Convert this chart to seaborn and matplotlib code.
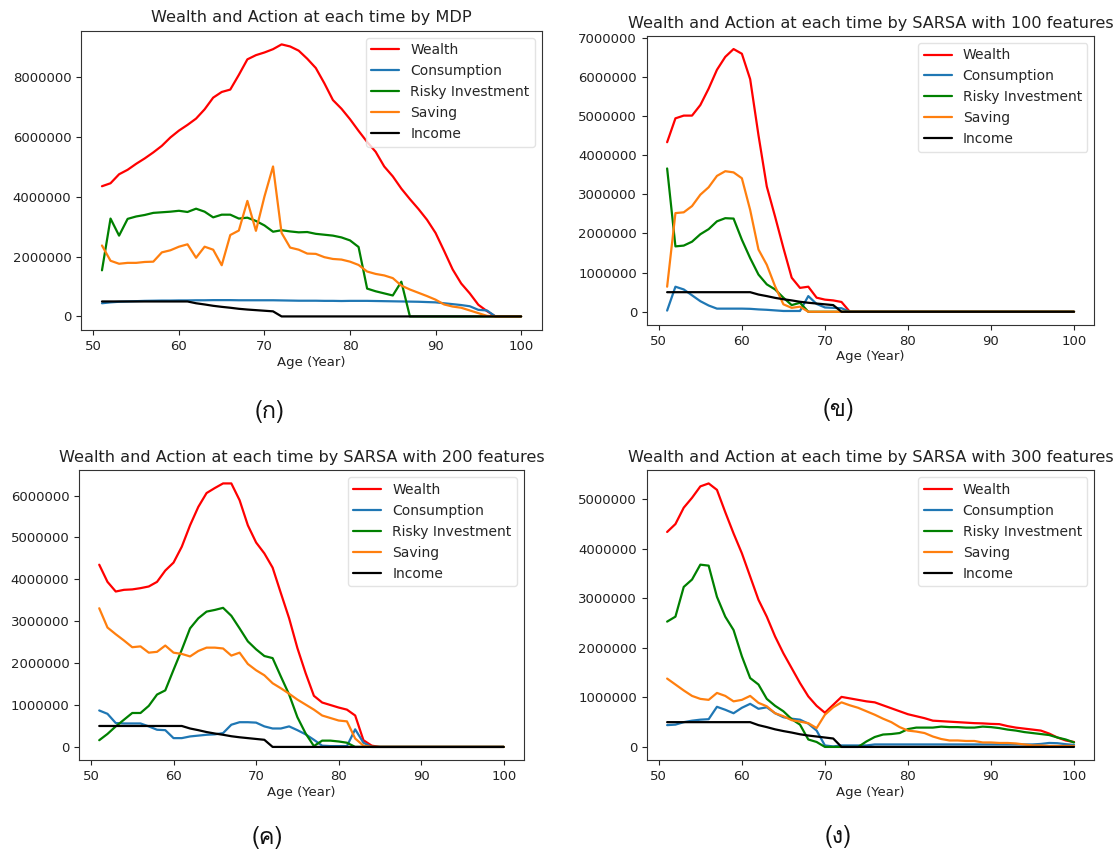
import matplotlib
matplotlib.use("Agg")
import matplotlib.pyplot as plt
import pandas as pd
import seaborn as sns
from matplotlib import font_manager
from matplotlib.ft2font import FT2Font
from matplotlib.ticker import MultipleLocator

# ---- data (ages 51..100) ----
ages = list(range(51, 101))

income = [500000, 500000, 500000, 500000, 500000, 500000, 500000, 500000, 500000, 500000,
          500000, 440000, 400000, 355000, 320000, 290000, 255000, 230000, 210000, 190000,
          170000, 0, 0, 0, 0, 0, 0, 0, 0, 0,
          0, 0, 0, 0, 0, 0, 0, 0, 0, 0,
          0, 0, 0, 0, 0, 0, 0, 0, 0, 0]

# (ก) MDP
wealth_mdp = [4350000, 4450000, 4750000, 4900000, 5100000, 5280000, 5480000, 5700000, 5980000, 6210000,
              6400000, 6610000, 6920000, 7310000, 7500000, 7580000, 8070000, 8590000, 8730000, 8820000,
              8930000, 9090000, 9020000, 8880000, 8610000, 8300000, 7790000, 7230000, 6940000, 6590000,
              6200000, 5830000, 5500000, 5010000, 4680000, 4270000, 3920000, 3590000, 3230000, 2790000,
              2190000, 1570000, 1100000, 770000, 390000, 180000, 0, 0, 0, 0]
consumption_mdp = [440000, 470000, 490000, 500000, 510000, 520000, 525000, 530000, 530000, 535000,
                   535000, 540000, 540000, 545000, 545000, 545000, 540000, 540000, 540000, 540000,
                   540000, 535000, 530000, 525000, 525000, 525000, 520000, 520000, 515000, 520000,
                   520000, 520000, 515000, 510000, 505000, 500000, 495000, 490000, 480000, 470000,
                   440000, 410000, 380000, 340000, 220000, 200000, 0, 0, 0, 0]
risky_mdp = [1540000, 3270000, 2700000, 3260000, 3340000, 3390000, 3460000, 3480000, 3500000, 3530000,
             3490000, 3600000, 3500000, 3310000, 3400000, 3400000, 3270000, 3300000, 3190000, 3040000,
             2830000, 2880000, 2840000, 2810000, 2820000, 2760000, 2730000, 2700000, 2640000, 2540000,
             2320000, 930000, 840000, 770000, 700000, 1160000, 0, 0, 0, 0,
             0, 0, 0, 0, 0, 0, 0, 0, 0, 0]
saving_mdp = [2370000, 1860000, 1760000, 1790000, 1790000, 1820000, 1830000, 2140000, 2210000, 2330000,
              2410000, 1960000, 2330000, 2230000, 1710000, 2720000, 2870000, 3860000, 2860000, 4010000,
              5010000, 2790000, 2300000, 2230000, 2100000, 2090000, 1980000, 1920000, 1900000, 1830000,
              1720000, 1500000, 1420000, 1370000, 1280000, 1030000, 900000, 790000, 680000, 560000,
              400000, 330000, 290000, 200000, 110000, 20000, 0, 0, 0, 0]

# (ข) SARSA 100 features
wealth_100 = [4330000, 4940000, 5010000, 5010000, 5280000, 5700000, 6180000, 6510000, 6710000, 6590000,
              5940000, 4510000, 3200000, 2430000, 1630000, 870000, 610000, 640000, 360000, 310000,
              290000, 250000, 0, 0, 0, 0, 0, 0, 0, 0,
              0, 0, 0, 0, 0, 0, 0, 0, 0, 0,
              0, 0, 0, 0, 0, 0, 0, 0, 0, 0]
consumption_100 = [30000, 640000, 570000, 420000, 270000, 160000, 80000, 80000, 80000, 80000,
                   75000, 60000, 50000, 35000, 20000, 20000, 20000, 400000, 200000, 110000,
                   100000, 90000, 0, 0, 0, 0, 0, 0, 0, 0,
                   0, 0, 0, 0, 0, 0, 0, 0, 0, 0,
                   0, 0, 0, 0, 0, 0, 0, 0, 0, 0]
risky_100 = [3660000, 1670000, 1690000, 1790000, 1980000, 2110000, 2310000, 2390000, 2380000, 1840000,
             1370000, 950000, 700000, 570000, 360000, 170000, 230000, 0, 0, 0,
             0, 0, 0, 0, 0, 0, 0, 0, 0, 0,
             0, 0, 0, 0, 0, 0, 0, 0, 0, 0,
             0, 0, 0, 0, 0, 0, 0, 0, 0, 0]
saving_100 = [640000, 2520000, 2540000, 2700000, 2990000, 3180000, 3470000, 3590000, 3560000, 3410000,
              2600000, 1590000, 1200000, 650000, 190000, 100000, 130000, 0, 0, 0,
              0, 0, 0, 0, 0, 0, 0, 0, 0, 0,
              0, 0, 0, 0, 0, 0, 0, 0, 0, 0,
              0, 0, 0, 0, 0, 0, 0, 0, 0, 0]

# (ค) SARSA 200 features
wealth_200 = [4350000, 3940000, 3710000, 3750000, 3760000, 3790000, 3830000, 3940000, 4210000, 4400000,
              4780000, 5290000, 5730000, 6060000, 6180000, 6290000, 6290000, 5890000, 5290000, 4880000,
              4620000, 4280000, 3670000, 3070000, 2360000, 1760000, 1220000, 1060000, 1000000, 940000,
              890000, 750000, 160000, 30000, 0, 0, 0, 0, 0, 0,
              0, 0, 0, 0, 0, 0, 0, 0, 0, 0]
consumption_200 = [870000, 790000, 570000, 560000, 560000, 560000, 490000, 410000, 400000, 210000,
                   210000, 250000, 270000, 290000, 300000, 330000, 530000, 590000, 590000, 580000,
                   490000, 440000, 440000, 490000, 400000, 300000, 170000, 30000, 20000, 20000,
                   20000, 420000, 100000, 0, 0, 0, 0, 0, 0, 0,
                   0, 0, 0, 0, 0, 0, 0, 0, 0, 0]
risky_200 = [160000, 310000, 490000, 650000, 810000, 810000, 980000, 1250000, 1350000, 1840000,
             2320000, 2830000, 3070000, 3230000, 3270000, 3320000, 3130000, 2830000, 2520000, 2330000,
             2170000, 2120000, 1680000, 1250000, 710000, 320000, 20000, 150000, 150000, 130000,
             100000, 0, 0, 0, 0, 0, 0, 0, 0, 0,
             0, 0, 0, 0, 0, 0, 0, 0, 0, 0]
saving_200 = [3310000, 2850000, 2690000, 2540000, 2380000, 2400000, 2250000, 2270000, 2420000, 2250000,
              2220000, 2160000, 2290000, 2370000, 2370000, 2350000, 2180000, 2250000, 1980000, 1830000,
              1710000, 1520000, 1400000, 1270000, 1130000, 1010000, 890000, 750000, 690000, 630000,
              610000, 200000, 30000, 0, 0, 0, 0, 0, 0, 0,
              0, 0, 0, 0, 0, 0, 0, 0, 0, 0]

# (ง) SARSA 300 features
wealth_300 = [4340000, 4500000, 4830000, 5030000, 5260000, 5320000, 5190000, 4740000, 4310000, 3910000,
              3440000, 2970000, 2630000, 2230000, 1890000, 1590000, 1290000, 1020000, 830000, 690000,
              850000, 1010000, 980000, 950000, 920000, 900000, 840000, 780000, 720000, 660000,
              620000, 580000, 530000, 520000, 510000, 500000, 490000, 480000, 475000, 465000,
              460000, 420000, 390000, 370000, 350000, 330000, 270000, 190000, 130000, 100000]
consumption_300 = [440000, 450000, 500000, 530000, 550000, 560000, 810000, 750000, 680000, 790000,
                   870000, 770000, 800000, 680000, 600000, 570000, 550000, 470000, 330000, 30000,
                   10000, 30000, 30000, 30000, 30000, 50000, 50000, 50000, 50000, 50000,
                   50000, 50000, 50000, 50000, 50000, 50000, 50000, 50000, 50000, 50000,
                   50000, 50000, 50000, 50000, 50000, 60000, 80000, 75000, 55000, 40000]
risky_300 = [2530000, 2630000, 3230000, 3380000, 3680000, 3660000, 3030000, 2630000, 2360000, 1830000,
             1390000, 1260000, 970000, 830000, 720000, 560000, 450000, 150000, 100000, 0,
             0, 0, 0, 0, 110000, 200000, 250000, 260000, 280000, 360000,
             390000, 390000, 390000, 410000, 400000, 400000, 390000, 390000, 410000, 400000,
             380000, 350000, 330000, 300000, 280000, 260000, 240000, 190000, 150000, 90000]
saving_300 = [1380000, 1260000, 1140000, 1030000, 970000, 950000, 1090000, 1030000, 920000, 950000,
              1030000, 890000, 820000, 680000, 620000, 540000, 510000, 480000, 380000, 650000,
              800000, 900000, 840000, 790000, 720000, 650000, 570000, 500000, 400000, 330000,
              310000, 280000, 210000, 160000, 130000, 130000, 120000, 120000, 90000, 90000,
              80000, 80000, 70000, 50000, 30000, 30000, 20000, 20000, 20000, 20000]

series_names = ["Wealth", "Consumption", "Risky Investment", "Saving", "Income"]
series_colors = ["red", "tab:blue", "green", "tab:orange", "black"]

panels = [
    ("Wealth and Action at each time by MDP", "(ก)",
     [wealth_mdp, consumption_mdp, risky_mdp, saving_mdp, income]),
    ("Wealth and Action at each time by SARSA with 100 features", "(ข)",
     [wealth_100, consumption_100, risky_100, saving_100, income]),
    ("Wealth and Action at each time by SARSA with 200 features", "(ค)",
     [wealth_200, consumption_200, risky_200, saving_200, income]),
    ("Wealth and Action at each time by SARSA with 300 features", "(ง)",
     [wealth_300, consumption_300, risky_300, saving_300, income]),
]

# axes boxes [left, bottom, width, height] in figure fractions, and y-tick steps
boxes = [[0.0724, 0.614, 0.412, 0.350],
         [0.578, 0.620, 0.400, 0.338],
         [0.0706, 0.111, 0.3977, 0.339],
         [0.578, 0.111, 0.400, 0.339]]
ystep = [2000000, 1000000, 1000000, 1000000]
tag_xy = [(0.241, 0.519), (0.749, 0.521), (0.239, 0.020), (0.749, 0.022)]


def thai_family():
    # pick any installed face that carries Thai glyphs
    for f in font_manager.fontManager.ttflist:
        try:
            if 0x0E01 in FT2Font(f.fname).get_charmap():
                return f.name
        except Exception:
            pass
    return "DejaVu Sans"


def main():
    sns.set_style("ticks")
    plt.rcParams["font.family"] = ["DejaVu Sans"]
    plt.rcParams["axes.edgecolor"] = "#333333"
    thai = thai_family()

    fig = plt.figure(figsize=(11.19, 8.55), dpi=100)
    for (title, tag, values), box, step, txy in zip(panels, boxes, ystep, tag_xy):
        ax = fig.add_axes(box)
        df = pd.DataFrame({"Age": ages * len(series_names),
                           "Value": [v for s in values for v in s],
                           "Series": [n for n in series_names for _ in ages]})
        sns.lineplot(data=df, x="Age", y="Value", hue="Series", hue_order=series_names,
                     palette=series_colors, linewidth=1.6, ax=ax)
        ax.set_title(title, fontsize=11.6, color="#222222")
        ax.set_xlabel("Age (Year)", fontsize=9.5, color="#222222", labelpad=2)
        ax.set_ylabel("")
        ax.xaxis.set_major_locator(MultipleLocator(10))
        ax.yaxis.set_major_locator(MultipleLocator(step))
        ax.ticklabel_format(axis="y", style="plain", useOffset=False)
        ax.tick_params(labelsize=9.5, colors="#222222", length=3.5)
        handles, labels = ax.get_legend_handles_labels()
        ax.legend(handles, labels, loc="upper right", fontsize=10, frameon=True,
                  edgecolor="#dddddd", framealpha=0.8, borderpad=0.4, labelspacing=0.5)
        fig.text(txy[0], txy[1], tag, fontsize=17, family=[thai, "DejaVu Sans"],
                 ha="center", va="center", color="#111111")

    fig.savefig("out.png", dpi=100, facecolor="white")
    plt.close(fig)


if __name__ == "__main__":
    main()
